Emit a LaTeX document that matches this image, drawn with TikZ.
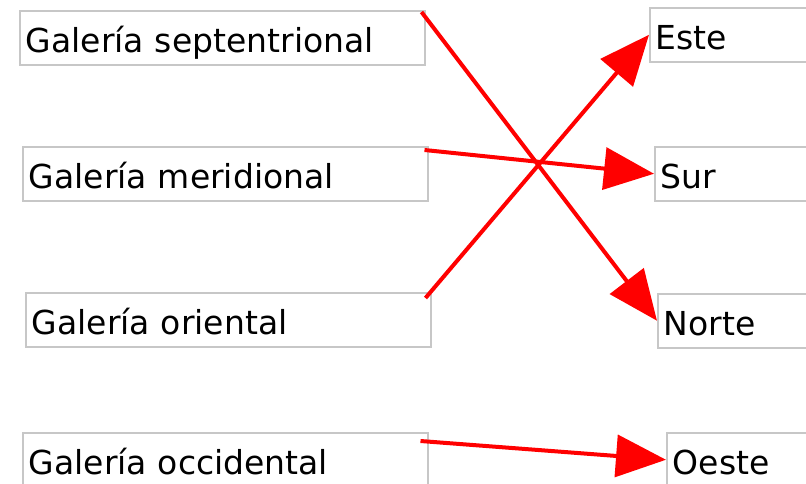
\documentclass[tikz,border=0pt]{standalone}
\usepackage{fontspec}
\setmainfont{DejaVu Sans}
\usetikzlibrary{arrows.meta,calc}
\begin{document}
\begin{tikzpicture}[x=1pt,y=-1pt,
  box/.style={draw=black!22, line width=1.5pt, rectangle, anchor=north west,
    inner xsep=6pt, inner ysep=0pt, minimum height=54pt, align=left,
    text height=36pt, text depth=6pt, font=\fontsize{33pt}{36pt}\selectfont},
  lbox/.style={box, text width=393pt},
  rbox/.style={box, text width=250pt},
  link/.style={draw=red, line width=4pt, -{Triangle[length=50pt,width=42pt]}}]
\useasboundingbox (0,0) rectangle (806,483);
\node[lbox] (l1) at (19,10) {Galería septentrional};
\node[lbox] (l2) at (22,146) {Galería meridional};
\node[lbox] (l3) at (25,292) {Galería oriental};
\node[lbox] (l4) at (22,432) {Galería occidental};
\node[rbox] (r1) at (649,7) {Este};
\node[rbox] (r2) at (654,146) {Sur};
\node[rbox] (r3) at (657,293) {Norte};
\node[rbox] (r4) at (666,432) {Oeste};
\draw[link] ($(l1.north east)+(-4,2)$) -- (r3.west);
\draw[link] ($(l2.north east)+(-4,4)$) -- (r2.west);
\draw[link] ($(l3.north east)+(-6,6)$) -- (r1.west);
\draw[link] ($(l4.north east)+(-8,9)$) -- (r4.west);
\end{tikzpicture}
\end{document}
